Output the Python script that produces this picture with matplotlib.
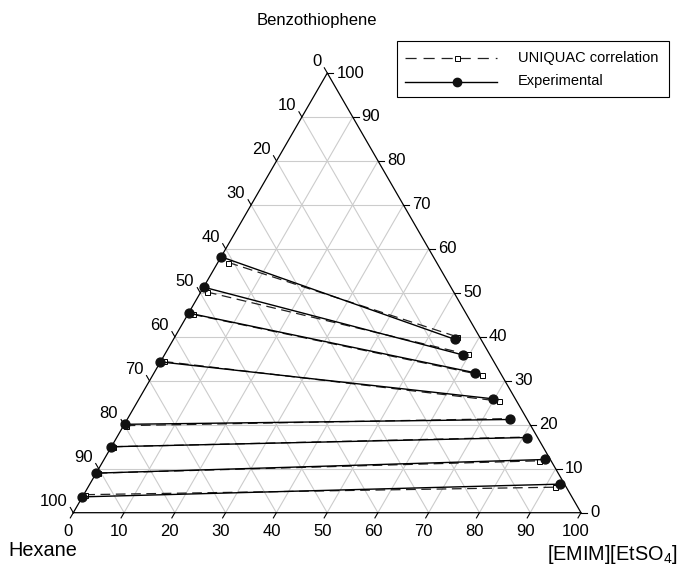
import numpy as np
import matplotlib
matplotlib.use("Agg")
import matplotlib.pyplot as plt
from matplotlib.patches import Rectangle

plt.rcParams['font.family'] = ['Liberation Sans', 'DejaVu Sans']
plt.rcParams['mathtext.fontset'] = 'custom'
plt.rcParams['mathtext.rm'] = 'Liberation Sans'
plt.rcParams['mathtext.it'] = 'Liberation Sans:italic'
plt.rcParams['lines.scale_dashes'] = False

# ---------------- data (mass %, benzothiophene b, [EMIM][EtSO4] e; hexane = 100-b-e)
exp_hex_b = [58.2, 51.3, 45.4, 34.3, 20.1, 15.0, 9.0, 3.6]
exp_hex_e = [0.0, 0.0, 0.0, 0.0, 0.1, 0.0, 0.0, 0.0]
exp_il_b = [39.4, 35.9, 31.8, 25.9, 21.2, 17.1, 12.1, 6.5]
exp_il_e = [55.5, 58.7, 63.3, 69.7, 75.4, 80.8, 86.8, 92.6]

uni_hex_b = [56.9, 50.2, 45.1, 34.4, 19.8, 15.0, 9.0, 4.1]
uni_hex_e = [2.1, 1.2, 1.0, 0.6, 0.4, 0.3, 0.3, 0.3]
uni_il_b = [40.0, 36.0, 31.3, 25.4, 21.4, 17.2, 11.8, 5.8]
uni_il_e = [55.6, 59.7, 64.8, 71.1, 75.2, 80.6, 85.8, 92.0]

tick_values = [0, 10, 20, 30, 40, 50, 60, 70, 80, 90, 100]
title_top = "Benzothiophene"
title_left = "Hexane"
title_right = r"$\mathrm{[EMIM][EtSO_4]}$"
legend_labels = ["UNIQUAC correlation", "Experimental"]

# ---------------- layout (pixel coordinates)
W, H = 681, 568
VL = np.array([73.3, 512.7])   # hexane vertex
VR = np.array([581.0, 512.7])  # IL vertex
VT = np.array([327.3, 73.0])   # benzothiophene vertex


def tern(b, e):
    b = np.asarray(b, float) / 100.0
    e = np.asarray(e, float) / 100.0
    h = 1.0 - b - e
    pts = np.outer(h, VL) + np.outer(b, VT) + np.outer(e, VR)
    return pts[:, 0], pts[:, 1]


fig = plt.figure(figsize=(W / 100, H / 100), dpi=100)
ax = fig.add_axes([0, 0, 1, 1])
ax.set_xlim(0, W)
ax.set_ylim(H, 0)
ax.axis('off')

grid_c = '#cccccc'
FS = 12.0

# grid lines
for k in tick_values[1:-1]:
    x, y = tern([k, k], [0, 100 - k])
    ax.plot(x, y, color=grid_c, lw=0.8, zorder=1)
    x, y = tern([0, 100 - k], [k, k])
    ax.plot(x, y, color=grid_c, lw=0.8, zorder=1)
    x, y = tern([0, 100 - k], [100 - k, 0])
    ax.plot(x, y, color=grid_c, lw=0.8, zorder=1)

# triangle edges
tri = np.array([VL, VR, VT, VL])
ax.plot(tri[:, 0], tri[:, 1], color='black', lw=0.9, zorder=2)

TL = 6.0
d_left = np.array([-0.5, -0.866])
d_bot = np.array([-0.5, 0.866])
d_right = np.array([1.0, 0.0])
for k in tick_values:
    # bottom: IL %
    x, y = tern([0], [k])
    p = np.array([x[0], y[0]])
    q = p + TL * d_bot
    ax.plot([p[0], q[0]], [p[1], q[1]], color='black', lw=0.8, zorder=2)
    ax.text(q[0] - 2, q[1] + 14, str(k), ha='center', va='center', fontsize=FS)
    # right: benzothiophene %
    x, y = tern([k], [100 - k])
    p = np.array([x[0], y[0]])
    q = p + TL * d_right
    ax.plot([p[0], q[0]], [p[1], q[1]], color='black', lw=0.8, zorder=2)
    ax.text(q[0] + 3, q[1], str(k), ha='left', va='center', fontsize=FS)
    # left: hexane %
    x, y = tern([100 - k], [0])
    p = np.array([x[0], y[0]])
    q = p + TL * d_left
    ax.plot([p[0], q[0]], [p[1], q[1]], color='black', lw=0.8, zorder=2)
    ax.text(q[0] - 3, q[1] - 6, str(k), ha='right', va='center', fontsize=FS)

# titles
ax.text(317, 20, title_top, ha='center', va='center', fontsize=FS)
ax.text(8, 551, title_left, ha='left', va='center', fontsize=14.3)
ax.text(678, 554, title_right, ha='right', va='center', fontsize=14.3)

# tie lines
for i in range(len(uni_hex_b)):
    x, y = tern([uni_hex_b[i], uni_il_b[i]], [uni_hex_e[i], uni_il_e[i]])
    ax.plot(x, y, color='#222222', lw=0.9, dashes=(7, 4), zorder=3,
            marker='s', ms=3.6, mfc='white', mec='black', mew=0.7)
for i in range(len(exp_hex_b)):
    x, y = tern([exp_hex_b[i], exp_il_b[i]], [exp_hex_e[i], exp_il_e[i]])
    ax.plot(x, y, color='black', lw=1.0, zorder=4,
            marker='o', ms=6.4, mfc='#111111', mec='#111111')

# legend (manual box)
ax.add_patch(Rectangle((397, 40.5), 272, 56, fill=False, ec='black', lw=0.8, zorder=5))
ax.plot([405, 497], [58, 58], color='#222222', lw=0.9, dashes=(8, 5), zorder=6)
ax.plot([457], [58], marker='s', ms=3.6, mfc='white', mec='black', mew=0.7, zorder=7)
ax.plot([405, 497], [81.5, 81.5], color='black', lw=1.0, zorder=6)
ax.plot([457], [81.5], marker='o', ms=6.0, mfc='#111111', mec='#111111', zorder=7)
ax.text(518, 58, legend_labels[0], ha='left', va='center', fontsize=10.5)
ax.text(518, 81.5, legend_labels[1], ha='left', va='center', fontsize=10.5)

fig.savefig('out.png', dpi=100)
